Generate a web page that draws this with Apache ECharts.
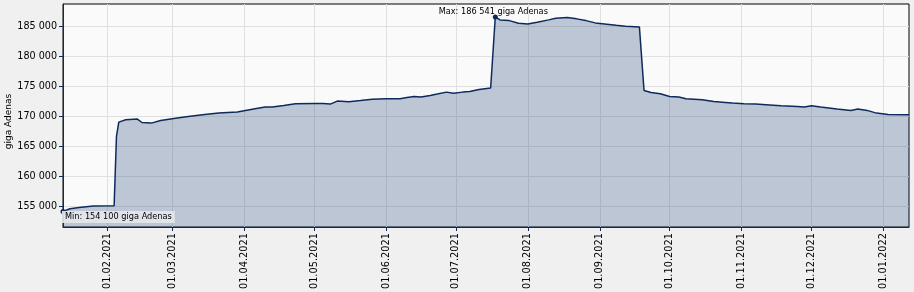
<!DOCTYPE html>
<html>
<head>
<meta charset="utf-8">
<script src="https://cdn.jsdelivr.net/npm/echarts@6/dist/echarts.min.js"></script>
<style>
html,body{margin:0;padding:0;background:#f0f0f0;}
#c{width:914px;height:292px;}
</style>
</head>
<body>
<div id="c"></div>
<script>
// ---- data ----
const dates = [
  '2021-01-13','2021-01-16','2021-01-20','2021-01-26',
  '2021-02-04','2021-02-05','2021-02-06','2021-02-09','2021-02-14','2021-02-16','2021-02-20','2021-02-24',
  '2021-03-01','2021-03-07','2021-03-14','2021-03-21','2021-03-29',
  '2021-04-05','2021-04-10','2021-04-13','2021-04-18','2021-04-23','2021-05-01',
  '2021-05-05','2021-05-08','2021-05-11','2021-05-16','2021-05-21','2021-05-26',
  '2021-06-01','2021-06-07','2021-06-10','2021-06-13','2021-06-16','2021-06-20','2021-06-23','2021-06-27','2021-06-30',
  '2021-07-04','2021-07-07','2021-07-11','2021-07-16','2021-07-18','2021-07-20','2021-07-24','2021-07-28',
  '2021-08-01','2021-08-05','2021-08-10','2021-08-13','2021-08-18','2021-08-22','2021-08-26','2021-08-30',
  '2021-09-03','2021-09-08','2021-09-12','2021-09-18','2021-09-20','2021-09-23','2021-09-27',
  '2021-10-01','2021-10-05','2021-10-08','2021-10-15','2021-10-20','2021-10-25','2021-10-28',
  '2021-11-02','2021-11-07','2021-11-13','2021-11-18','2021-11-25','2021-11-28',
  '2021-12-01','2021-12-05','2021-12-12','2021-12-18','2021-12-21','2021-12-25','2021-12-29',
  '2022-01-03','2022-01-12'
];
const values = [
  154100,154550,154770,155000,
  155050,166600,169000,169380,169500,168930,168830,169270,
  169550,169880,170220,170500,170680,
  171170,171500,171500,171770,172050,172100,
  172100,172000,172500,172380,172600,172830,
  172880,172880,173100,173270,173170,173430,173670,174000,173830,
  174000,174100,174430,174700,186541,186050,185930,185500,
  185380,185670,186050,186330,186450,186220,185930,185550,
  185380,185150,185000,184880,174270,173930,173720,
  173270,173170,172880,172720,172430,172270,172170,
  172050,172000,171850,171720,171600,171500,
  171720,171500,171170,170950,171170,170950,170500,
  170250,170220
];
const xTickDates = ['2021-02-01','2021-03-01','2021-04-01','2021-05-01','2021-06-01','2021-07-01',
  '2021-08-01','2021-09-01','2021-10-01','2021-11-01','2021-12-01','2022-01-01'];
const yTicks = [155000,160000,165000,170000,175000,180000,185000];
const xRange = ['2021-01-13','2022-01-12'];
const yRange = [151500,188700];
const unit = 'giga Adenas';

// ---- helpers ----
const ts = s => { const p = s.split('-').map(Number); return new Date(p[0], p[1] - 1, p[2]).getTime(); };
const fmt = v => String(Math.round(v)).replace(/\B(?=(\d{3})+(?!\d))/g, ' ');
const pad = n => (n < 10 ? '0' : '') + n;
const fmtDate = v => { const d = new Date(v); return pad(d.getDate()) + '.' + pad(d.getMonth() + 1) + '.' + d.getFullYear(); };

const seriesData = dates.map((d, i) => [ts(d), values[i]]);
const xTicks = xTickDates.map(ts);
const FONT = 'DejaVu Sans';
const NAVY = '#0e2a5c';

const chart = echarts.init(document.getElementById('c'), null, {renderer: 'canvas'});
chart.setOption({
  backgroundColor: '#f0f0f0',
  animation: false,
  grid: {left: 63, right: 5, top: 4, bottom: 65, containLabel: false, outerBoundsMode: 'none',
    show: true, backgroundColor: '#fafafa', borderColor: '#000', borderWidth: 1},
  xAxis: {
    type: 'value',
    min: ts(xRange[0]), max: ts(xRange[1]),
    axisLine: {show: true, onZero: false, lineStyle: {color: NAVY, width: 1}},
    axisTick: {show: true, length: 4, customValues: xTicks, lineStyle: {color: NAVY}},
    axisLabel: {customValues: xTicks, rotate: 90, margin: 6, color: '#000', fontFamily: FONT, fontSize: 9.8, formatter: v => fmtDate(v), hideOverlap: false, showMinLabel: true, showMaxLabel: true},
    splitLine: {show: true, lineStyle: {color: '#e0e0e0', width: 1}}
  },
  yAxis: {
    type: 'value',
    min: yRange[0], max: yRange[1],
    name: unit, nameLocation: 'middle', nameGap: 50, nameMoveOverlap: false,
    nameTextStyle: {color: '#000', fontFamily: FONT, fontSize: 9, padding: [0, 12, 0, 0]},
    axisLine: {show: true, onZero: false, lineStyle: {color: NAVY, width: 1}},
    axisTick: {show: true, length: 4, customValues: yTicks, lineStyle: {color: NAVY}},
    axisLabel: {customValues: yTicks, margin: 6, color: '#000', fontFamily: FONT, fontSize: 9.6, formatter: v => fmt(v)},
    splitLine: {show: true, lineStyle: {color: '#e0e0e0', width: 1}}
  },
  series: [{
    type: 'line',
    data: seriesData,
    showSymbol: false,
    smooth: false,
    clip: true,
    lineStyle: {color: NAVY, width: 1.5},
    itemStyle: {color: NAVY},
    areaStyle: {color: 'rgba(12,50,108,0.26)', opacity: 1, origin: 'start'},
    markPoint: {
      symbol: 'circle', symbolSize: 5,
      itemStyle: {color: NAVY},
      data: [
        {type: 'max', label: {show: true, position: [0.5, 1.5], align: 'center', verticalAlign: 'bottom',
          color: '#000', fontFamily: FONT, fontSize: 8.2, formatter: p => 'Max: ' + fmt(p.value) + ' ' + unit}},
        {type: 'min', label: {show: true, position: [1.5, 2], align: 'left', verticalAlign: 'top',
          color: '#000', fontFamily: FONT, fontSize: 8.2, backgroundColor: 'rgba(228,230,234,0.92)', padding: [2, 3, 2, 3],
          formatter: p => 'Min: ' + fmt(p.value) + ' ' + unit}}
      ]
    }
  }]
});
</script>
</body>
</html>
